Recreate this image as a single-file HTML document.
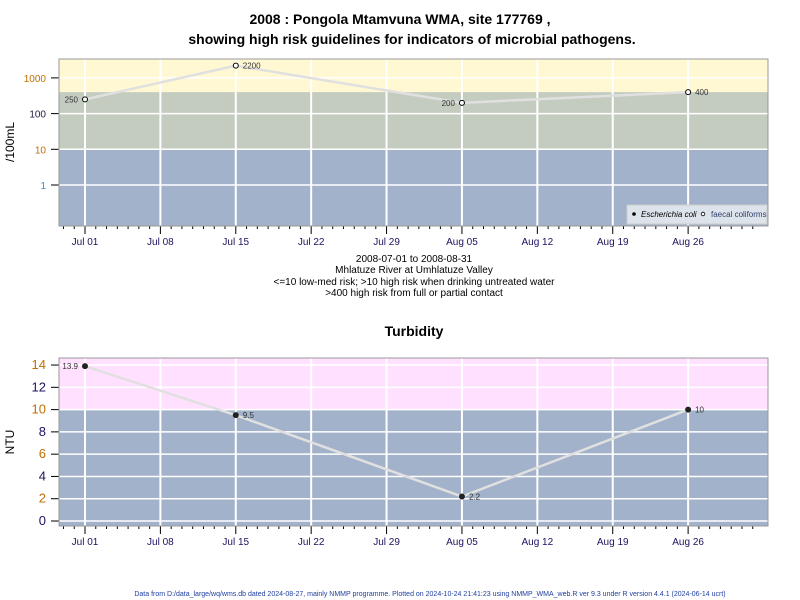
<!DOCTYPE html>
<html><head><meta charset="utf-8"><style>
body{margin:0;background:#fff;font-family:"Liberation Sans",Arial,sans-serif}
svg{display:block}
</style></head><body>
<svg id="c" width="800" height="600" font-family="Liberation Sans, Arial, sans-serif">
<text x="400" y="24" text-anchor="middle" font-size="14" font-weight="bold">2008 : Pongola Mtamvuna WMA, site 177769 ,</text>
<text x="412" y="44" text-anchor="middle" font-size="14" font-weight="bold">showing high risk guidelines for indicators of microbial pathogens.</text>
<text x="414" y="262" text-anchor="middle" font-size="10">2008-07-01 to 2008-08-31</text>
<text x="414" y="273" text-anchor="middle" font-size="10">Mhlatuze River at Umhlatuze Valley</text>
<text x="414" y="285" text-anchor="middle" font-size="10">&lt;=10 low-med risk; &gt;10 high risk when drinking untreated water</text>
<text x="414" y="296" text-anchor="middle" font-size="10">&gt;400 high risk from full or partial contact</text>
<text x="414" y="336" text-anchor="middle" font-size="14" font-weight="bold">Turbidity</text>
<text x="14" y="142" text-anchor="middle" font-size="12" transform="rotate(-90 14 142)">/100mL</text>
<text x="14" y="442" text-anchor="middle" font-size="12" transform="rotate(-90 14 442)">NTU</text>
<text x="430" y="596" text-anchor="middle" font-size="7" fill="#2040a0">Data from D:/data_large/wq/wms.db dated 2024-08-27, mainly NMMP programme. Plotted on 2024-10-24 21:41:23 using NMMP_WMA_web.R ver 9.3 under R version 4.4.1 (2024-06-14 ucrt)</text>
</svg>
<script>
const fcDays=[0,14,35,56];
const fcValues=[250,2200,200,400];
const fcLabels=["250","2200","200","400"];
const turbDays=[0,14,35,56];
const turbValues=[13.9,9.5,2.2,10];
const turbLabels=["13.9","9.5","2.2","10"];
const dateTicks=[0,7,14,21,28,35,42,49,56];
const dateTickLabels=["Jul 01","Jul 08","Jul 15","Jul 22","Jul 29","Aug 05","Aug 12","Aug 19","Aug 26"];
const logTicks=[1,10,100,1000];
const logTickLabels=["1","10","100","1000"];
const turbTicks=[0,2,4,6,8,10,12,14];
const turbTickLabels=["0","2","4","6","8","10","12","14"];
const svg=document.getElementById('c');const NS='http://www.w3.org/2000/svg';
function mk(t,a,p){const e=document.createElementNS(NS,t);for(const k in a)e.setAttribute(k,a[k]);(p||svg).appendChild(e);return e;}
const L=59,R=768;
const x=d=>85+d*10.77;
const yLog=v=>185-Math.log10(v)*35.7;
const yT=v=>521-v*11.14;
function panel(top,bot,bands,yTicks,yLabels,yf,name,tickColors){
  const g=mk('g',{});
  bands.forEach(b=>{const r=mk('rect',{x:L,y:b[0],width:R-L,height:b[1]-b[0],fill:b[2]},g);});
  yTicks.forEach((t,i)=>{const y=yf(t);mk('line',{x1:L,x2:R,y1:y,y2:y,stroke:'#fff','stroke-width':1.5},g);
    mk('line',{x1:L-8,x2:L,y1:y,y2:y,stroke:'#000'},g);
    const tx=mk('text',{x:L-13,y:y+4,'text-anchor':'end','font-size':top>300?13:10,fill:tickColors[i%tickColors.length]},g);tx.textContent=yLabels[i];
    });
  dateTicks.forEach((d,i)=>{const xx=x(d);mk('line',{x1:xx,x2:xx,y1:top,y2:bot,stroke:'#fff','stroke-width':2},g);
    mk('line',{x1:xx,x2:xx,y1:bot,y2:bot+8,stroke:'#000'},g);
    const tx=mk('text',{x:xx,y:bot+19,'text-anchor':'middle','font-size':10,fill:'#201060'},g);tx.textContent=dateTickLabels[i];
    });
  for(let d=-2;d<=63;d++){if(d%7===0)continue;const xx=x(d);if(xx<L||xx>R)continue;mk('line',{x1:xx,x2:xx,y1:bot,y2:bot+3,stroke:'#000'},g);}
  mk('rect',{x:L,y:top,width:R-L,height:bot-top,fill:'none',stroke:'#999'},g);
}
panel(59,226,[[59,yLog(400),'#fff8d2'],[yLog(400),yLog(10),'#c4ccc0'],[yLog(10),226,'#a2b2ca']],logTicks,logTickLabels,yLog,'top-panel',['#3090e0','#c07000','#202040','#c07000']);
panel(358,526,[[358,yT(10),'#ffe0ff'],[yT(10),526,'#a2b2ca']],turbTicks,turbTickLabels,yT,'bottom-panel',['#201060','#c07000','#201060','#c07000']);
// faecal coliforms
mk('polyline',{points:fcDays.map((d,i)=>x(d)+','+yLog(fcValues[i])).join(' '),fill:'none',stroke:'#e0e0e0','stroke-width':2.5});
fcDays.forEach((d,i)=>{const c=mk('circle',{cx:x(d),cy:yLog(fcValues[i]),r:2.5,fill:'#fff',stroke:'#000'});
  const right=(i%2===1)||i===3;const t=mk('text',{x:x(d)+(right?7:-7),y:yLog(fcValues[i])+3,'text-anchor':right?'start':'end','font-size':8,fill:'#333'});t.textContent=fcLabels[i];
  });
// turbidity
mk('polyline',{points:turbDays.map((d,i)=>x(d)+','+yT(turbValues[i])).join(' '),fill:'none',stroke:'#e0e0e0','stroke-width':2.5});
turbDays.forEach((d,i)=>{const c=mk('circle',{cx:x(d),cy:yT(turbValues[i]),r:3,fill:'#222'});
  const left=i===0;const t=mk('text',{x:x(d)+(left?-7:7),y:yT(turbValues[i])+3,'text-anchor':left?'end':'start','font-size':8,fill:'#333'});t.textContent=turbLabels[i];
  });
// legend
const lg=mk('g',{});
mk('rect',{x:627,y:205,width:140,height:19,fill:'#dde3ea',stroke:'#ccc'},lg);
mk('circle',{cx:634,cy:214,r:1.8,fill:'#000'},lg);
let t1=mk('text',{x:641,y:217,'font-size':8,'font-style':'italic'},lg);t1.textContent='Escherichia coli';

mk('circle',{cx:703,cy:214,r:1.8,fill:'#fff',stroke:'#000','stroke-width':0.8},lg);
let t2=mk('text',{x:711,y:217,'font-size':8,fill:'#304070'},lg);t2.textContent='faecal coliforms';

</script>
</body></html>
